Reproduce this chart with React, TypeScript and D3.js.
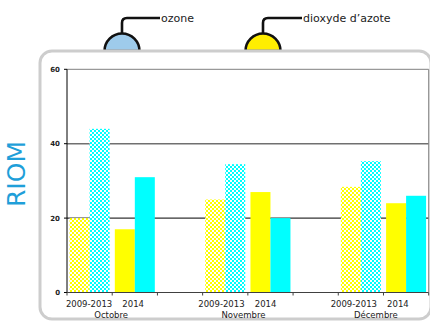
import React from "react";
import * as d3 from "d3";

const slots = ["2009-2013", "2014", "", "2009-2013", "2014", "", "2009-2013", "2014"];
const slotMonth = [0, 0, -1, 1, 1, -1, 2, 2];
const months = ["Octobre", "Novembre", "Décembre"];
const no2Values = [20, 17, null, 25, 27, null, 28.4, 24];
const o3Values = [44, 31, null, 34.5, 20, null, 35.3, 26];
const yTicks = [0, 20, 40, 60];
const station = "RIOM";
const legendItems = ["ozone", "dioxyde d\u2019azote"];
const legendColors = ["#9ecbeb", "#ffee00"];

const W = 430;
const H = 321;
const font = "'DejaVu Sans', Verdana, sans-serif";

export default function App() {
  const x = d3.scaleBand<number>().domain(d3.range(slots.length)).range([67, 428.7]).padding(0);
  const xl = d3.scaleBand<number>().domain(d3.range(slots.length)).range([67, 420]).padding(0);
  const y = d3.scaleLinear().domain([0, 60]).range([292.5, 69.3]);
  const bw = 20;
  const pairOff = (x.bandwidth() - 2 * bw) / 2;

  const bars: React.ReactNode[] = [];
  slots.forEach((s, i) => {
    const x0 = (x(i) as number) + pairOff;
    const hist = s === "2009-2013";
    const n = no2Values[i];
    const o = o3Values[i];
    if (n != null)
      bars.push(
        <rect key={"n" + i} x={x0} y={y(n)} width={bw} height={y(0) - y(n)} fill={hist ? "url(#chkY)" : "#ffff00"} />
      );
    if (o != null)
      bars.push(
        <rect key={"o" + i} x={x0 + bw} y={y(o)} width={bw} height={y(0) - y(o)} fill={hist ? "url(#chkC)" : "#00ffff"} />
      );
  });

  const legendX = [122, 263];
  const legendTextX = [160, 302];

  return (
    <svg width={W} height={H} style={{ position: "absolute", left: 0, top: 0 }}>
      <defs>
        <pattern id="chkY" width="4" height="4" patternUnits="userSpaceOnUse">
          <rect width="4" height="4" fill="#ffffff" />
          <rect width="2" height="2" fill="#ffff00" />
          <rect x="2" y="2" width="2" height="2" fill="#ffff00" />
        </pattern>
        <pattern id="chkC" width="4" height="4" patternUnits="userSpaceOnUse">
          <rect width="4" height="4" fill="#ffffff" />
          <rect width="2" height="2" fill="#00ffff" />
          <rect x="2" y="2" width="2" height="2" fill="#00ffff" />
        </pattern>
      </defs>
      <rect width={W} height={H} fill="#fff" />

      {/* legend bubbles */}
      {legendItems.map((t, i) => {
        const cx = legendX[i];
        const r = 17.5;
        const base = 51;
        return (
          <g key={t}>
            <path
              d={`M${cx - r},${base} A${r},${r} 0 0 1 ${cx + r},${base} Z`}
              fill={legendColors[i]}
              stroke="#111"
              strokeWidth={2.6}
            />
            <path
              d={`M${cx},${base - r} L${cx},${23} Q${cx},${18} ${cx + 5},${18} L${legendTextX[i]},${18}`}
              fill="none"
              stroke="#111"
              strokeWidth={2.6}
            />
            <text x={legendTextX[i] + 1} y={22} fontFamily={font} fontSize={11} fill="#222">
              {t}
            </text>
          </g>
        );
      })}

      {/* rounded frame */}
      <rect x={40} y={51} width={391} height={268} rx={12} ry={12} fill="#fff" stroke="#cdcdcd" strokeWidth={3} />

      {/* station name */}
      <text
        transform={`translate(25,174) rotate(-90)`}
        textAnchor="middle"
        fontFamily={font}
        fontSize={25}
        fill="#1f9fd9"
      >
        {station}
      </text>

      {/* grid lines */}
      <line x1={67} x2={428.7} y1={y(60)} y2={y(60)} stroke="#808080" strokeWidth={1} />
      <line x1={67} x2={428.7} y1={y(40)} y2={y(40)} stroke="#707070" strokeWidth={1.5} />
      <line x1={67} x2={428.7} y1={y(20)} y2={y(20)} stroke="#000" strokeWidth={1} />
      <line x1={428.7} x2={428.7} y1={y(60)} y2={y(0)} stroke="#808080" strokeWidth={1} />

      {bars}

      {/* y axis */}
      <line x1={67} x2={67} y1={y(60)} y2={y(0)} stroke="#000" strokeWidth={1} />
      {yTicks.map((t) => (
        <g key={t}>
          <line x1={64} x2={67} y1={y(t)} y2={y(t)} stroke="#000" />
          <text x={60} y={y(t) + 2.5} textAnchor="end" fontFamily={font} fontSize={7} fontWeight="bold" fill="#222">
            {t}
          </text>
        </g>
      ))}

      {/* x axis */}
      <line x1={67} x2={428.7} y1={y(0)} y2={y(0)} stroke="#404040" strokeWidth={1} />
      {d3.range(slots.length + 1).map((i) => {
        const xx = i < slots.length ? (x(i) as number) : x.range()[1];
        return <line key={"t" + i} x1={xx} x2={xx} y1={y(0)} y2={y(0) + 3} stroke="#404040" />;
      })}
      {slots.map((s, i) =>
        s ? (
          <text
            key={"l" + i}
            x={(xl(i) as number) + xl.bandwidth() / 2}
            y={307}
            textAnchor="middle"
            fontFamily={font}
            fontSize={8.5}
            fill="#222"
          >
            {s}
          </text>
        ) : null
      )}
      {months.map((m, k) => {
        const idx = slotMonth.indexOf(k);
        return (
          <text
            key={m}
            x={(xl(idx + 1) as number)}
            y={318}
            textAnchor="middle"
            fontFamily={font}
            fontSize={8.5}
            fill="#222"
          >
            {m}
          </text>
        );
      })}
    </svg>
  );
}
